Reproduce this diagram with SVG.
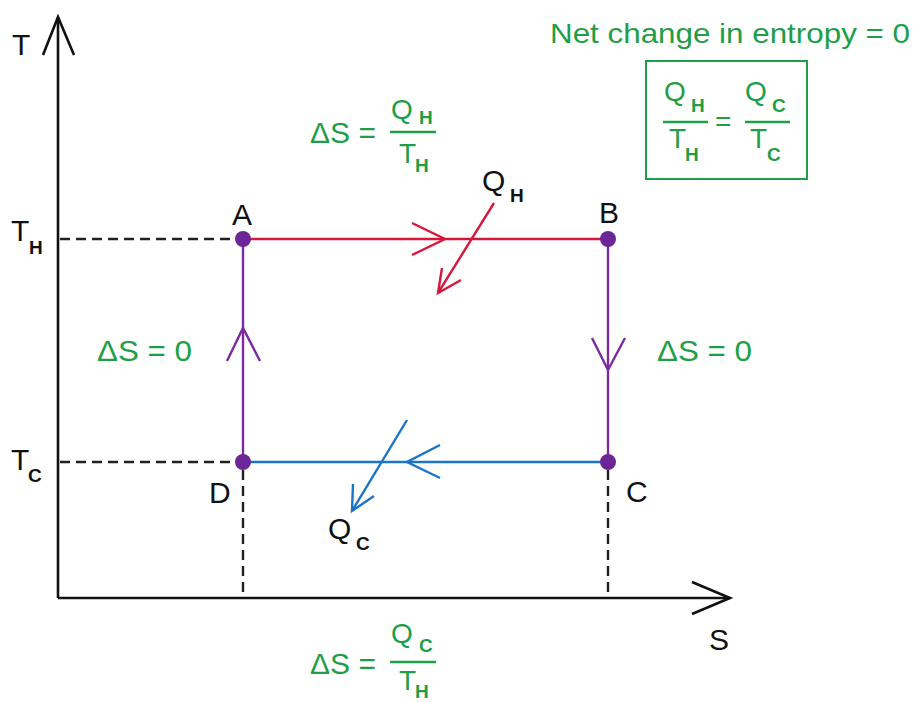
<svg xmlns="http://www.w3.org/2000/svg" width="916" height="702" viewBox="0 0 916 702">
<style>
text{font-family:"Liberation Sans",Arial,sans-serif}
.lbl{font-size:30px;fill:#111}
.g{fill:#1f9e47}
.big{font-size:30px}
.fr{font-size:28px}
.sub{font-size:19px;font-weight:bold}
.axis{stroke:#111;stroke-width:2.6;fill:none}
.dash{stroke:#222;stroke-width:2.4;stroke-dasharray:10 6;fill:none}
.red{stroke:#d8173d;stroke-width:2.4;fill:none}
.blue{stroke:#1a74c8;stroke-width:2.4;fill:none}
.pur{stroke:#7a2b9e;stroke-width:2.4;fill:none}
.gl{stroke:#1f9e47;stroke-width:2.4;fill:none}
.dot{fill:#6c2696}
</style>
<rect width="916" height="702" fill="#fff"/>
<g id="axes">
<line class="axis" x1="58" y1="598" x2="58" y2="17"/>
<polyline class="axis" points="43,55 58,17 74,55"/>
<line class="axis" x1="58" y1="598" x2="730" y2="598"/>
<polyline class="axis" points="692,582 730,598 692,614"/>
<text class="lbl" x="12" y="55">T</text>
<text class="lbl" x="709" y="650">S</text>
<text class="lbl" x="11" y="241">T</text>
<text class="lbl sub" x="29" y="254">H</text>
<text class="lbl" x="11" y="470">T</text>
<text class="lbl sub" x="28" y="482">C</text>
</g>
<g id="connectors">
<line class="dash" x1="60" y1="239" x2="236" y2="239"/>
<line class="dash" x1="60" y1="462" x2="236" y2="462"/>
<line class="dash" x1="243" y1="470" x2="243" y2="597"/>
<line class="dash" x1="608" y1="470" x2="608" y2="597"/>
<line class="red" x1="243" y1="239" x2="608" y2="239"/>
<polyline class="red" points="412,223 445,239 412,255"/>
<line class="red" x1="494" y1="203" x2="438" y2="293"/>
<polyline class="red" points="442,268 438,293 461,280"/>
<line class="blue" x1="243" y1="462" x2="608" y2="462"/>
<polyline class="blue" points="440,445 407,462 440,478"/>
<line class="blue" x1="407" y1="420" x2="352" y2="511"/>
<polyline class="blue" points="353,484 352,511 374,496"/>
<line class="pur" x1="243" y1="239" x2="243" y2="462"/>
<polyline class="pur" points="227,361 243,328 260,361"/>
<line class="pur" x1="608" y1="239" x2="608" y2="462"/>
<polyline class="pur" points="592,338 608,370 625,338"/>
</g>
<g id="A"><circle class="dot" cx="243" cy="239" r="8"/><text class="lbl" x="232" y="225">A</text></g>
<g id="B"><circle class="dot" cx="608" cy="239" r="8"/><text class="lbl" x="599" y="223">B</text></g>
<g id="C"><circle class="dot" cx="608" cy="462" r="8"/><text class="lbl" x="626" y="502">C</text></g>
<g id="D"><circle class="dot" cx="243" cy="462" r="8"/><text class="lbl" x="209" y="503">D</text></g>
<g id="QH"><text class="lbl" x="482" y="191">Q</text><text class="lbl sub" x="510" y="202">H</text></g>
<g id="QC"><text class="lbl" x="328" y="539">Q</text><text class="lbl sub" x="356" y="550">C</text></g>
<g id="dsL"><text class="g big" x="97" y="361" textLength="95" lengthAdjust="spacingAndGlyphs">ΔS = 0</text></g>
<g id="dsR"><text class="g big" x="657" y="361" textLength="95" lengthAdjust="spacingAndGlyphs">ΔS = 0</text></g>
<g id="dsTop">
<text class="g big" x="310" y="143">ΔS =</text>
<line class="gl" x1="390" y1="132" x2="436" y2="132"/>
<text class="g fr" x="391" y="119">Q</text><text class="g sub" x="419" y="124">H</text>
<text class="g fr" x="399" y="163">T</text><text class="g sub" x="415" y="172">H</text>
</g>
<g id="dsBottom">
<text class="g big" x="310" y="674">ΔS =</text>
<line class="gl" x1="390" y1="662" x2="436" y2="662"/>
<text class="g fr" x="391" y="643">Q</text><text class="g sub" x="419" y="652">C</text>
<text class="g fr" x="399" y="690">T</text><text class="g sub" x="415" y="698">H</text>
</g>
<g id="net">
<text class="g" x="550" y="43" font-size="28" textLength="360" lengthAdjust="spacingAndGlyphs">Net change in entropy = 0</text>
<rect x="646" y="61" width="161" height="118" fill="none" stroke="#1f9e47" stroke-width="2"/>
<line class="gl" x1="663" y1="122" x2="708" y2="122"/>
<text class="g fr" x="664" y="101">Q</text><text class="g sub" x="691" y="112">H</text>
<text class="g fr" x="669" y="148">T</text><text class="g sub" x="685" y="161">H</text>
<text class="g fr" x="715" y="131">=</text>
<line class="gl" x1="745" y1="122" x2="790" y2="122"/>
<text class="g fr" x="745" y="101">Q</text><text class="g sub" x="772" y="112">C</text>
<text class="g fr" x="750" y="148">T</text><text class="g sub" x="767" y="161">C</text>
</g>
</svg>
